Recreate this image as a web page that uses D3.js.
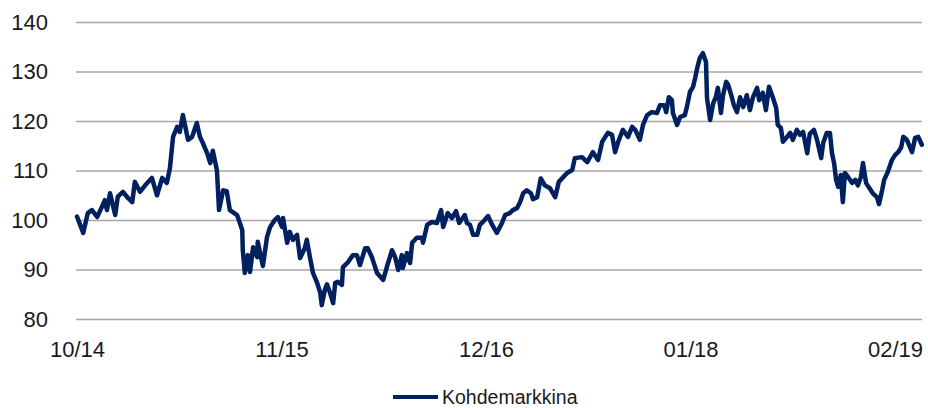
<!DOCTYPE html>
<html>
<head>
<meta charset="utf-8">
<script src="https://cdn.jsdelivr.net/npm/d3@7"></script>
<style>
  body { margin: 0; background: #fff; }
  svg { display: block; font-family: "Liberation Sans", Arial, sans-serif; }
  .grid line { stroke: #a6a6a6; stroke-width: 1.5; }
  .grid .domain { display: none; }
  .tick text { fill: #1a1a1a; font-size: 22px; }
</style>
</head>
<body>
<svg width="928" height="408"></svg>
<script>
// series
var dates = [
  "2014-10-01","2014-10-13","2014-10-22","2014-10-30","2014-11-09","2014-11-18","2014-11-24","2014-11-28","2014-12-04","2014-12-14",
  "2014-12-19","2014-12-29","2015-01-08","2015-01-16","2015-01-21","2015-01-31","2015-02-10","2015-02-23","2015-03-05","2015-03-15",
  "2015-03-24","2015-03-30","2015-04-05","2015-04-13","2015-04-18","2015-04-24","2015-05-04","2015-05-12","2015-05-21","2015-05-27",
  "2015-06-02","2015-06-10","2015-06-16","2015-06-21","2015-06-29","2015-07-03","2015-07-11","2015-07-18","2015-07-24","2015-08-07",
  "2015-08-17","2015-08-18","2015-08-22","2015-08-28","2015-09-01","2015-09-07","2015-09-15","2015-09-16","2015-09-26","2015-10-04",
  "2015-10-10","2015-10-19","2015-10-25","2015-11-02","2015-11-04","2015-11-12","2015-11-17","2015-11-23","2015-12-01","2015-12-07",
  "2015-12-16","2015-12-20","2015-12-26","2016-01-01","2016-01-09","2016-01-15","2016-01-18","2016-01-24","2016-01-28","2016-02-03",
  "2016-02-09","2016-02-13","2016-02-18","2016-02-26","2016-02-28","2016-03-09","2016-03-18","2016-03-26","2016-04-01","2016-04-11",
  "2016-04-16","2016-04-24","2016-05-04","2016-05-16","2016-05-23","2016-06-02","2016-06-08","2016-06-14","2016-06-21","2016-06-23",
  "2016-07-01","2016-07-07","2016-07-11","2016-07-20","2016-07-30","2016-08-01","2016-08-09","2016-08-18","2016-08-28","2016-09-05",
  "2016-09-09","2016-09-18","2016-09-26","2016-10-04","2016-10-10","2016-10-21","2016-10-25","2016-10-31","2016-11-06","2016-11-14",
  "2016-11-19","2016-11-25","2016-12-05","2016-12-13","2016-12-22","2017-01-01","2017-01-07","2017-01-16","2017-01-22","2017-01-30",
  "2017-02-05","2017-02-11","2017-02-18","2017-02-26","2017-03-02","2017-03-10","2017-03-17","2017-03-25","2017-04-04","2017-04-14",
  "2017-04-21","2017-05-07","2017-05-17","2017-05-22","2017-06-05","2017-06-15","2017-06-26","2017-07-06","2017-07-14","2017-07-25",
  "2017-08-02","2017-08-08","2017-08-14","2017-08-23","2017-09-02","2017-09-10","2017-09-16","2017-09-25","2017-10-01","2017-10-09",
  "2017-10-18","2017-10-28","2017-11-03","2017-11-11","2017-11-15","2017-11-20","2017-11-26","2017-11-28","2017-12-06","2017-12-12",
  "2017-12-21","2017-12-25","2017-12-31","2018-01-06","2018-01-10","2018-01-14","2018-01-19","2018-01-25","2018-01-31","2018-02-02",
  "2018-02-08","2018-02-14","2018-02-19","2018-02-23","2018-03-01","2018-03-05","2018-03-11","2018-03-15","2018-03-22","2018-03-26",
  "2018-04-01","2018-04-07","2018-04-13","2018-04-20","2018-04-26","2018-05-02","2018-05-10","2018-05-14","2018-05-21","2018-05-27",
  "2018-06-02","2018-06-10","2018-06-16","2018-06-19","2018-06-25","2018-06-29","2018-07-07","2018-07-13","2018-07-18","2018-07-26",
  "2018-08-01","2018-08-07","2018-08-15","2018-08-20","2018-08-28","2018-09-03","2018-09-11","2018-09-15","2018-09-22","2018-09-28",
  "2018-10-02","2018-10-06","2018-10-10","2018-10-14","2018-10-19","2018-10-23","2018-10-27","2018-11-02","2018-11-10","2018-11-16",
  "2018-11-21","2018-11-27","2018-12-01","2018-12-07","2018-12-13","2018-12-20","2018-12-28","2019-01-01","2019-01-07","2019-01-11",
  "2019-01-18","2019-01-26","2019-02-01","2019-02-07","2019-02-13","2019-02-17","2019-02-24","2019-03-06","2019-03-12","2019-03-18",
  "2019-03-25"
];
var values = [
  100.7, 97.4, 101.4, 102, 100.6, 102.6, 104, 102, 105.4, 101,
  104.7, 105.7, 104.4, 103.6, 107.7, 105.7, 107, 108.5, 105, 108.5,
  107.5, 110.5, 116.8, 118.8, 117.8, 121.2, 116.2, 116.8, 119.6, 116.8,
  115.5, 113.5, 111.5, 114, 110, 102, 106, 105.8, 102, 101,
  98, 94, 89.3, 92.9, 89.5, 94.5, 92.5, 95.6, 90.7, 96.6,
  98.6, 100, 100.6, 98.6, 100.4, 95.4, 97.6, 96, 97, 92.3,
  94.3, 96, 92.5, 89.3, 87.3, 85.3, 82.8, 85.9, 87, 85.3,
  83.2, 87.3, 87.5, 86.9, 90.5, 91.5, 92.9, 92.9, 90.9, 94.3,
  94.3, 92.5, 89.3, 87.9, 90.5, 93.9, 92.5, 89.9, 92.9, 90.3,
  93.3, 91.3, 95.4, 96.4, 96.4, 95.4, 99, 99.6, 99.4, 102,
  98.6, 101.4, 100.4, 101.8, 99.4, 101, 99.4, 99, 97, 97,
  99, 99.6, 100.8, 99, 97.4, 99.4, 101, 101.4, 102, 102.4,
  103.6, 105.4, 106, 105.4, 104.2, 104.6, 108.4, 107, 106.4, 104.6,
  107.7, 109.5, 110.1, 112.5, 112.7, 111.7, 113.7, 112.1, 115.8, 117.6,
  117.2, 113.7, 115.8, 118.2, 116.8, 118.8, 118.2, 116.2, 119.2, 121.2,
  121.8, 121.6, 123.2, 123.2, 121.8, 124.8, 124.2, 121.6, 119.2, 120.8,
  121.2, 122.8, 125.9, 126.9, 128.7, 130.7, 132.7, 133.7, 131.9, 124.6,
  120.2, 123.6, 124.8, 126.7, 121.6, 125.2, 127.9, 127.3, 124.8, 123.2,
  121.8, 124.8, 122.8, 125.2, 122.2, 124.8, 126.7, 124.2, 125.7, 122.2,
  126.9, 124.6, 122.6, 119.2, 118.6, 115.8, 116.8, 117.6, 116.2, 118.2,
  117.2, 117.8, 113.5, 117.4, 118.2, 116.2, 112.5, 115.6, 117.6, 117.6,
  113.5, 111.5, 108.1, 106.7, 109.1, 103.6, 109.5, 108.7, 107.5, 108.1,
  107, 108.7, 111.5, 107.5, 106.5, 105.4, 104.6, 103.2, 106, 108.1,
  109.7, 112.1, 113.1, 113.7, 114.7, 116.8, 116.2, 113.7, 116.6, 116.8,
  115.2
];
var xTicks = ["2014-10-01", "2015-11-01", "2016-12-01", "2018-01-01", "2019-02-01"];
var yTicks = [80, 90, 100, 110, 120, 130, 140];
var seriesName = "Kohdemarkkina";

var parse = d3.timeParse("%Y-%m-%d");
var data = dates.map(function(d, i) {
  return { date: parse(d), value: values[i] };
});

var plotLeft = 76, plotRight = 922;
var svg = d3.select("svg");

var xScale = d3.scaleTime()
  .domain([parse(xTicks[0]), parse(xTicks[xTicks.length - 1])])
  .range([77, 895]);
var yScale = d3.scaleLinear()
  .domain([80, 140])
  .range([319, 22]);

// gridlines + y labels
svg.append("g")
  .attr("class", "grid")
  .attr("transform", "translate(" + plotLeft + ",0)")
  .call(d3.axisLeft(yScale)
    .tickValues(yTicks)
    .tickSize(-(plotRight - plotLeft))
    .tickPadding(28))
  .call(function(g) { g.select(".domain").remove(); });

// x labels
svg.append("g")
  .attr("class", "grid")
  .attr("transform", "translate(0," + yScale(80) + ")")
  .call(d3.axisBottom(xScale)
    .tickValues(xTicks.map(parse))
    .tickFormat(d3.timeFormat("%m/%y"))
    .tickSize(0)
    .tickPadding(22))
  .call(function(g) { g.select(".domain").remove(); });

var line = d3.line()
  .x(function(d) { return xScale(d.date); })
  .y(function(d) { return yScale(d.value); });

svg.append("path")
  .datum(data)
  .attr("fill", "none")
  .attr("stroke", "#002060")
  .attr("stroke-width", 4.5)
  .attr("stroke-linejoin", "round")
  .attr("stroke-linecap", "round")
  .attr("d", line);

// legend
var legend = svg.append("g").attr("transform", "translate(393,397)");
legend.append("line")
  .attr("x1", 0).attr("x2", 45)
  .attr("stroke", "#002060")
  .attr("stroke-width", 4);
legend.append("text")
  .attr("x", 49)
  .attr("y", 7)
  .attr("font-size", "19.5px")
  .attr("fill", "#1a1a1a")
  .text(seriesName);
</script>
</body>
</html>
